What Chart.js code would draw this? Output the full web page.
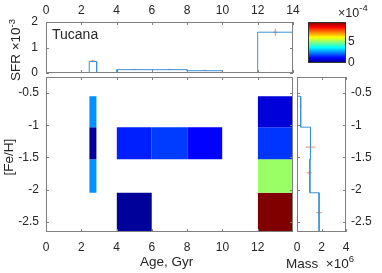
<!DOCTYPE html>
<html lang="en">
<head>
<meta charset="UTF-8">
<title>Tucana SFH</title>
<style>
  body { margin: 0; background: #fff; }
  #wrap { position: relative; width: 382px; height: 273px; font-family: "Liberation Sans", Arial, sans-serif; color: #262626; }
  canvas { position: absolute; left: 0; top: 0; }
  .lbl { position: absolute; white-space: nowrap; font-size: 13.5px; line-height: 1; }
  .lbl sup { font-size: 9.5px; vertical-align: 0.6em; line-height: 0; }
  .rot { transform: translate(-50%, -50%) rotate(-90deg); }
</style>
</head>
<body>
<div id="wrap">
  <canvas id="sfr" width="382" height="273"></canvas>
  <canvas id="map" width="382" height="273"></canvas>
  <canvas id="mass" width="382" height="273"></canvas>
  <canvas id="cbar" width="382" height="273"></canvas>
  <div class="lbl" style="left:52px; top:27px; font-size:14px;">Tucana</div>
  <div class="lbl rot" style="left:16px; top:50px;">SFR &times;10<sup>-3</sup></div>
  <div class="lbl rot" style="left:9px; top:157px;">[Fe/H]</div>
  <div class="lbl" style="left:140px; top:255px;">Age, Gyr</div>
  <div class="lbl" style="left:286px; top:257px;">Mass &nbsp;&times;10<sup>6</sup></div>
  <div class="lbl" style="left:338px; top:7px; font-size:12.5px;">&times;10<sup>-4</sup></div>
</div>

<script src="https://cdn.jsdelivr.net/npm/chart.js"></script>
<script>
// SFR vs age (x1e-3)
const sfrEdges = [0, 2.45, 2.87, 4, 8, 10, 12, 14];
const sfrVals = [0, 0.45, 0, 0.13, 0.09, 0, 1.6];
const sfrErrAge = [2.65, 5, 7, 9, 13];
const sfrErrVal = [0.47, 0.14, 0.14, 0.1, 1.6];
const sfrErr = [0.05, 0.02, 0.02, 0.02, 0.14];

// age-metallicity map (x1e-4), rows = age bins, cols = [Fe/H] bins
const ageBins = [[2.45, 2.87], [4, 6], [6, 8], [8, 10], [12, 14]];
const fehEdges = [-0.55, -1.03, -1.53, -2.05, -2.66];
const sfrMap = [
    [2.5, 0.24, 2.5, null],
    [null, 1.46, null, 0.24],
    [null, 1.73, null, null],
    [null, 1.18, null, null],
    [0.82, 1.65, 4.94, 9.4]
];
const cMax = 9.4;

// mass vs metallicity (x1e6)
const massEdges = [-0.25, -0.55, -1.03, -1.53, -2.05, -2.66];
const massVals = [0.02, 0.3, 1.1, 1.05, 1.8];
const massErrFeh = [-0.7, -1.34, -1.74, -2.36];
const massErrVal = [0.3, 1.1, 1.0, 1.8];
const massErr = [0.08, 0.4, 0.2, 0.23];

// ticks
const ageTicks = [0, 2, 4, 6, 8, 10, 12, 14];
const mapAgeTicks = [0, 2, 4, 6, 8, 10, 12];
const sfrTicks = [0, 1, 2];
const fehTicks = [-2.5, -2, -1.5, -1, -0.5];
const massTicks = [0, 2, 4];
const cbarTicks = [0, 5];

const BLUE = '#3c92d6';
const ORANGE = '#ec8a5e';
const W = 382, H = 273;

Chart.defaults.font.family = "'Liberation Sans', Arial, sans-serif";
Chart.defaults.font.size = 12;
Chart.defaults.color = '#262626';
Chart.defaults.animation = false;
Chart.defaults.responsive = false;
Chart.defaults.devicePixelRatio = 1;
Chart.defaults.plugins.legend.display = false;
Chart.defaults.plugins.tooltip.enabled = false;

function jet(t) {
    const c = v => Math.round(255 * Math.max(0, Math.min(1, v)));
    const r = c(Math.min(4 * t - 1.5, -4 * t + 4.5));
    const g = c(Math.min(4 * t - 0.5, -4 * t + 3.5));
    const b = c(Math.min(4 * t + 0.5, -4 * t + 2.5));
    return `rgb(${r},${g},${b})`;
}

// box + inward ticks, MATLAB style
const frame = {
    id: 'frame',
    afterDatasetsDraw(chart, args, opts) {
        const { ctx, chartArea: a } = chart;
        ctx.save();
        ctx.strokeStyle = opts.color;
        ctx.lineWidth = 1;
        if (opts.ticks) {
            ctx.beginPath();
            Object.values(chart.scales).forEach(s => {
                if (!s.options.display) return;
                s.ticks.forEach(t => {
                    const p = Math.round(s.getPixelForValue(t.value)) + 0.5;
                    if (s.isHorizontal()) {
                        ctx.moveTo(p, a.bottom); ctx.lineTo(p, a.bottom - 3);
                        ctx.moveTo(p, a.top); ctx.lineTo(p, a.top + 3);
                    } else {
                        ctx.moveTo(a.left, p); ctx.lineTo(a.left + 3, p);
                        ctx.moveTo(a.right, p); ctx.lineTo(a.right - 3, p);
                    }
                });
            });
            ctx.stroke();
        }
        ctx.strokeRect(a.left + 0.5, a.top + 0.5, a.right - a.left - 1, a.bottom - a.top - 1);
        ctx.restore();
    }
};
Chart.register(frame);

function axis(pos, min, max, ticks, size, pad) {
    const horiz = pos === 'top' || pos === 'bottom';
    return {
        type: 'linear', position: pos, min: min, max: max,
        grid: { display: false, drawTicks: false },
        border: { display: false },
        ticks: { padding: pad, callback: v => String(v) },
        afterBuildTicks: s => { s.ticks = ticks.map(v => ({ value: v })); },
        afterFit: s => { if (horiz) s.height = size; else s.width = size; }
    };
}

function stairs(edges, vals, vertical) {
    const pts = [];
    vals.forEach((v, i) => {
        if (vertical) {
            pts.push({ x: v, y: edges[i] }, { x: v, y: edges[i + 1] });
        } else {
            pts.push({ x: edges[i], y: v }, { x: edges[i + 1], y: v });
        }
    });
    if (vertical) pts.push({ x: 0, y: edges[edges.length - 1] });
    else pts.push({ x: edges[edges.length - 1], y: 0 });
    return pts;
}

function line(data, color) {
    return { type: 'line', data: data, borderColor: color, borderWidth: 1, pointRadius: 0, fill: false, tension: 0 };
}

// top panel: SFR
const sfrSets = [line(stairs(sfrEdges, sfrVals, false), BLUE)];
sfrErrAge.forEach((x, i) => {
    sfrSets.push(line([{ x: x, y: sfrErrVal[i] - sfrErr[i] }, { x: x, y: sfrErrVal[i] + sfrErr[i] }], ORANGE));
});
sfrSets.push({
    type: 'scatter', data: sfrErrAge.map((x, i) => ({ x: x, y: sfrErrVal[i] })),
    pointStyle: 'line', pointRadius: 2, borderColor: ORANGE, borderWidth: 1
});
new Chart(document.getElementById('sfr'), {
    type: 'line',
    data: { datasets: sfrSets },
    options: {
        layout: { padding: { left: 0, top: 0, right: W - 293, bottom: H - 73 } },
        scales: { x: axis('top', 0, 14, ageTicks, 22, 4), y: axis('left', 0, 2, sfrTicks, 46, 8) },
        plugins: { frame: { color: '#808080', ticks: true } }
    }
});

// main panel: age-metallicity map
const cellSets = [];
ageBins.forEach((bin, i) => {
    sfrMap[i].forEach((v, j) => {
        if (v === null) return;
        cellSets.push({
            type: 'line',
            data: [{ x: bin[0], y: fehEdges[j] }, { x: bin[1], y: fehEdges[j] }],
            fill: { value: fehEdges[j + 1] },
            backgroundColor: jet(v / cMax), borderWidth: 0, pointRadius: 0
        });
    });
});
new Chart(document.getElementById('map'), {
    type: 'line',
    data: { datasets: cellSets },
    options: {
        layout: { padding: { left: 0, top: 77, right: W - 293, bottom: 0 } },
        scales: { x: axis('bottom', 0, 14, mapAgeTicks, H - 232, 8), y: axis('left', -2.66, -0.25, fehTicks, 46, 7) },
        plugins: { frame: { color: '#808080', ticks: true } }
    }
});

// right panel: mass vs [Fe/H]
const massSets = [line(stairs(massEdges, massVals, true), BLUE)];
massErrFeh.forEach((y, i) => {
    massSets.push(line([{ x: massErrVal[i] - massErr[i], y: y }, { x: massErrVal[i] + massErr[i], y: y }], ORANGE));
});
massSets.push({
    type: 'scatter', data: massErrFeh.map((y, i) => ({ x: massErrVal[i], y: y })),
    pointStyle: 'line', rotation: 90, pointRadius: 2, borderColor: ORANGE, borderWidth: 1
});
new Chart(document.getElementById('mass'), {
    type: 'line',
    data: { datasets: massSets },
    options: {
        layout: { padding: { left: 297, top: 77, right: 0, bottom: 0 } },
        scales: { x: axis('bottom', 0, 4, massTicks, H - 232, 8), y: axis('right', -2.66, -0.25, fehTicks, W - 346, 5) },
        plugins: { frame: { color: '#808080', ticks: true } }
    }
});

// colorbar
new Chart(document.getElementById('cbar'), {
    type: 'bar',
    data: {
        labels: [''],
        datasets: [{
            data: [[0, cMax]],
            categoryPercentage: 1, barPercentage: 1, borderWidth: 0,
            backgroundColor: ctx => {
                const a = ctx.chart.chartArea;
                if (!a) return jet(0.5);
                const g = ctx.chart.ctx.createLinearGradient(0, a.bottom, 0, a.top);
                for (let i = 0; i <= 64; i++) g.addColorStop(i / 64, jet(i / 64));
                return g;
            }
        }]
    },
    options: {
        layout: { padding: { left: 308, top: 22, right: 0, bottom: H - 63 } },
        scales: {
            x: { display: false },
            y: axis('right', 0, cMax, cbarTicks, W - 346, 2)
        },
        plugins: { frame: { color: '#333333', ticks: false } }
    }
});
</script>
</body>
</html>
